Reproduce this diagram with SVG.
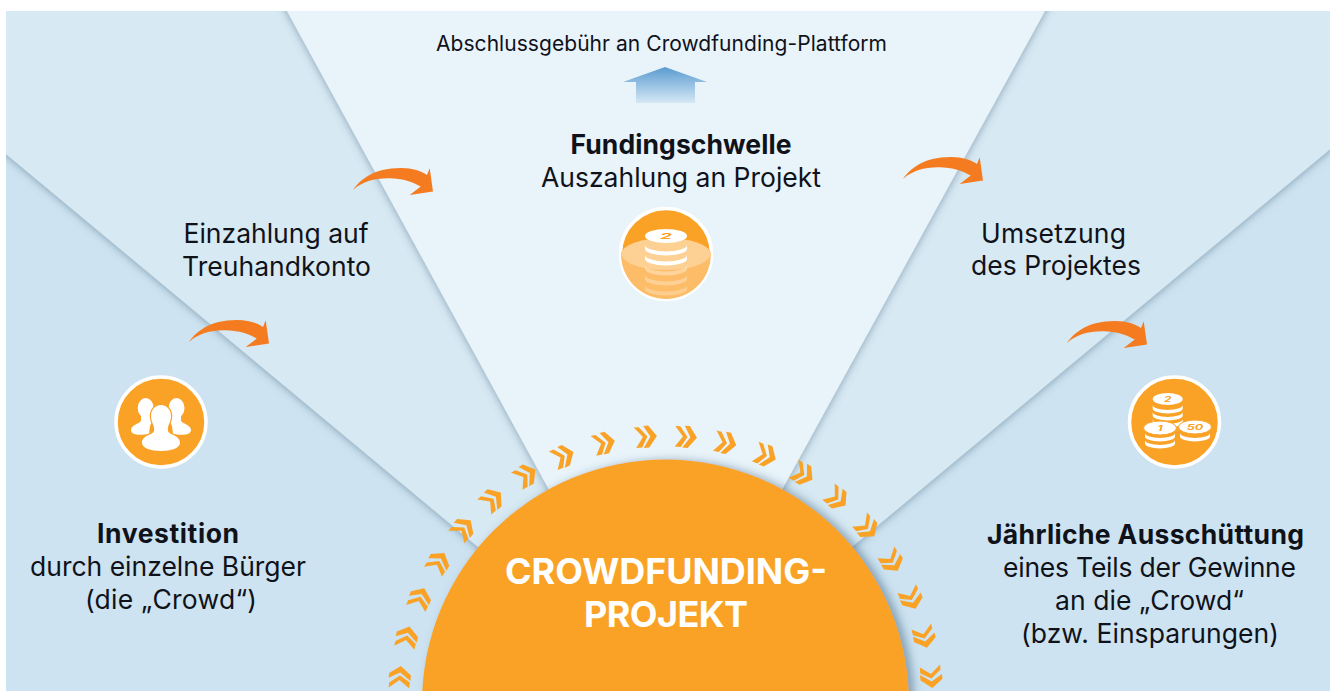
<svg xmlns="http://www.w3.org/2000/svg" xmlns:xlink="http://www.w3.org/1999/xlink" width="1335" height="691" viewBox="0 0 1335 691">
<style>
text{font-family:"Inter","Liberation Sans",sans-serif;fill:#10121a;text-anchor:middle}
.b{font-size:26.500px}
.h{font-size:26.500px;font-weight:700}
.s{font-size:21px}
.t{font-size:36px;font-weight:700;fill:#fff}
.o{fill:#f9a226}
.i{fill:#f9a226;stroke:#fff;stroke-width:3.5}
.w{fill:#fff}
.n{fill:#f9a226;font-weight:700;font-size:9px;font-style:italic}
</style>
<defs>
<clipPath id="panel"><rect x="6" y="11" width="1324" height="680"/></clipPath>
<filter id="sh" x="-10%" y="-10%" width="120%" height="120%"><feDropShadow dx="0" dy="1" stdDeviation="4" flood-color="#4f7088" flood-opacity=".6"/></filter>
<filter id="shs" x="-10%" y="-10%" width="120%" height="120%"><feDropShadow dx="5" dy="1" stdDeviation="5" flood-color="#4f7088" flood-opacity=".6"/></filter>
<linearGradient id="up" x1="0" y1="0" x2="0" y2="1"><stop offset="0" stop-color="#5a9bd0"/><stop offset="1" stop-color="#d5e8f5"/></linearGradient>
<path id="ch" d="M-11.500,-10h5L1.500,0L-4.500,10.500h-6L-3,0ZM-2,-11h5L11,0L2.500,11h-5.500L4.500,0Z" fill="#f9a226"/>
<path id="arc" d="M0,0C7,-10 20,-22 48,-22C60,-22 68,-19 74,-15L76.700,-21.700L80,1.600L56.700,5L67.700,-3.400C58,-9 50,-11 40,-11.500C24,-12.500 10,-9 0,0Z" fill="#f47b20"/>
<path id="band" d="M-15,0v3.500a15,5 0 0 0 30,0v-3.500a15,5 0 0 1 -30,0Z" fill="#fff"/>
<path id="bandL" d="M-21,0v4a21,6.500 0 0 0 42,0v-4a21,6.500 0 0 1 -42,0Z" fill="#fff"/>
</defs>
<rect width="1335" height="691" fill="#fff"/>
<g id="background" clip-path="url(#panel)">
<rect x="6" y="11" width="1324" height="680" fill="#cde3f1"/>
<polygon points="-60,99 478,547 665,700 852,547 1400,91 1400,-40 -60,-40" fill="#d7e9f3" filter="url(#sh)"/>
<polygon points="259,-40 548,488 665,700 783,488 1073,-40" fill="#e8f3fa" filter="url(#sh)"/>
</g>
<g id="threshold-arrow"><polygon points="665,67 707,82 695,82 695,103 636,103 636,82 623,82" fill="url(#up)"/></g>
<g id="project">
<circle cx="665.500" cy="703" r="243.500" class="o" filter="url(#shs)"/>
<text x="666" y="584" class="t" textLength="322">CROWDFUNDING-</text>
<text x="666" y="627" class="t" textLength="164">PROJEKT</text>
</g>
<g id="ring">
<use xlink:href="#ch" href="#ch" transform="translate(665.500 703) rotate(-84.400) translate(0 -267)"/>
<use xlink:href="#ch" href="#ch" transform="translate(665.500 703) rotate(-75.700) translate(0 -267)"/>
<use xlink:href="#ch" href="#ch" transform="translate(665.500 703) rotate(-66.900) translate(0 -267)"/>
<use xlink:href="#ch" href="#ch" transform="translate(665.500 703) rotate(-58.200) translate(0 -267)"/>
<use xlink:href="#ch" href="#ch" transform="translate(665.500 703) rotate(-49.200) translate(0 -267)"/>
<use xlink:href="#ch" href="#ch" transform="translate(665.500 703) rotate(-40.400) translate(0 -267)"/>
<use xlink:href="#ch" href="#ch" transform="translate(665.500 703) rotate(-31.500) translate(0 -267)"/>
<use xlink:href="#ch" href="#ch" transform="translate(665.500 703) rotate(-22.500) translate(0 -267)"/>
<use xlink:href="#ch" href="#ch" transform="translate(665.500 703) rotate(-13.300) translate(0 -267)"/>
<use xlink:href="#ch" href="#ch" transform="translate(665.500 703) rotate(-4.200) translate(0 -267)"/>
<use xlink:href="#ch" href="#ch" transform="translate(665.500 703) rotate(4.400) translate(0 -267)"/>
<use xlink:href="#ch" href="#ch" transform="translate(665.500 703) rotate(13) translate(0 -267)"/>
<use xlink:href="#ch" href="#ch" transform="translate(665.500 703) rotate(22) translate(0 -267)"/>
<use xlink:href="#ch" href="#ch" transform="translate(665.500 703) rotate(31) translate(0 -267)"/>
<use xlink:href="#ch" href="#ch" transform="translate(665.500 703) rotate(40) translate(0 -267)"/>
<use xlink:href="#ch" href="#ch" transform="translate(665.500 703) rotate(49) translate(0 -267)"/>
<use xlink:href="#ch" href="#ch" transform="translate(665.500 703) rotate(58) translate(0 -267)"/>
<use xlink:href="#ch" href="#ch" transform="translate(665.500 703) rotate(67) translate(0 -267)"/>
<use xlink:href="#ch" href="#ch" transform="translate(665.500 703) rotate(75.700) translate(0 -267)"/>
<use xlink:href="#ch" href="#ch" transform="translate(665.500 703) rotate(84.400) translate(0 -267)"/>
</g>
<g id="connectors">
<use xlink:href="#arc" href="#arc" x="189" y="342"/>
<use xlink:href="#arc" href="#arc" x="353" y="190"/>
<use xlink:href="#arc" href="#arc" x="903" y="179"/>
<use xlink:href="#arc" href="#arc" x="1067" y="343"/>
</g>
<g id="fee"><text x="661.500" y="51" class="s" textLength="451">Abschlussgebühr an Crowdfunding-Plattform</text></g>
<g id="funding">
<text x="681" y="154" class="h" textLength="221">Fundingschwelle</text>
<text x="681" y="187" class="b" textLength="280">Auszahlung an Projekt</text>
<circle cx="666" cy="254" r="45.500" class="i"/>
<path d="M621,254a45,16 0 0 1 90,0a45,45 0 0 1 -90,0Z" fill="#fdbd68"/>
<ellipse cx="666" cy="254" rx="44.500" ry="16" fill="#fdd093"/>
<ellipse cx="666" cy="236" rx="21" ry="7" class="w"/>
<use xlink:href="#bandL" href="#bandL" x="666" y="245"/>
<use xlink:href="#bandL" href="#bandL" x="666" y="255"/>
<use xlink:href="#bandL" href="#bandL" x="666" y="265" opacity=".35"/>
<use xlink:href="#bandL" href="#bandL" x="666" y="275" opacity=".3"/>
<use xlink:href="#bandL" href="#bandL" x="666" y="285" opacity=".25"/>
<text transform="translate(666 239) scale(1.700 .7)" class="n" style="font-size:11px">2</text>
</g>
<g id="deposit">
<text x="276" y="243" class="b" textLength="185">Einzahlung auf</text>
<text x="276.500" y="276" class="b" textLength="189">Treuhandkonto</text>
</g>
<g id="implementation">
<text x="1053.500" y="243" class="b" textLength="145">Umsetzung</text>
<text x="1056" y="275" class="b" textLength="170">des Projektes</text>
</g>
<g id="investment">
<circle cx="161" cy="422" r="45" class="i"/>
<ellipse cx="145.700" cy="408" rx="8" ry="10" class="w"/>
<path d="M141,414h10l1,8l-2,4l-1,8c-7,1 -18,2 -18,-4c0,-5 8,-6 10,-9Z" class="w"/>
<ellipse cx="176.500" cy="408" rx="8" ry="10" class="w"/>
<path d="M181,414h-10l-1,8l2,4l1,8c7,1 18,2 18,-4c0,-5 -8,-6 -10,-9Z" class="w"/>
<path d="M161,405c6,0 10,5 10,11c0,7 -4,9 -3,15c1,4 12,4 12,12c0,5 -9,8 -19,8c-10,0 -19,-3 -19,-8c0,-8 11,-8 12,-12c1,-6 -3,-8 -3,-15c0,-6 4,-11 10,-11Z" class="w" stroke="#f9a226" stroke-width="2.500" paint-order="stroke"/>
<text x="168" y="543" class="h" textLength="142">Investition</text>
<text x="168" y="576" class="b" textLength="276">durch einzelne Bürger</text>
<text x="171" y="609" class="b" textLength="172">(die „Crowd“)</text>
</g>
<g id="payout">
<circle cx="1174.500" cy="422" r="45" class="i"/>
<ellipse cx="1167.700" cy="399" rx="15" ry="6" class="w"/>
<use xlink:href="#band" href="#band" x="1167.700" y="405"/>
<use xlink:href="#band" href="#band" x="1167.700" y="412"/>
<use xlink:href="#band" href="#band" x="1167.700" y="419"/>
<ellipse cx="1160" cy="428" rx="16.500" ry="7" class="w" stroke="#f9a226"/>
<use xlink:href="#band" href="#band" x="1160" y="433"/>
<use xlink:href="#band" href="#band" x="1160" y="440"/>
<ellipse cx="1195" cy="427" rx="16.500" ry="7" class="w" stroke="#f9a226"/>
<use xlink:href="#band" href="#band" x="1195" y="433"/>
<text transform="translate(1167.700 402) scale(1.300 .8)" class="n">2</text>
<text transform="translate(1160 431) scale(1.400 .8)" class="n">1</text>
<text transform="translate(1195 430) scale(1.400 .8)" class="n">50</text>
<text x="1145.500" y="544" class="h" textLength="317">Jährliche Ausschüttung</text>
<text x="1149.500" y="577" class="b" textLength="293">eines Teils der Gewinne</text>
<text x="1149.500" y="610" class="b" textLength="189">an die „Crowd“</text>
<text x="1150" y="643" class="b" textLength="258">(bzw. Einsparungen)</text>
</g>
</svg>
